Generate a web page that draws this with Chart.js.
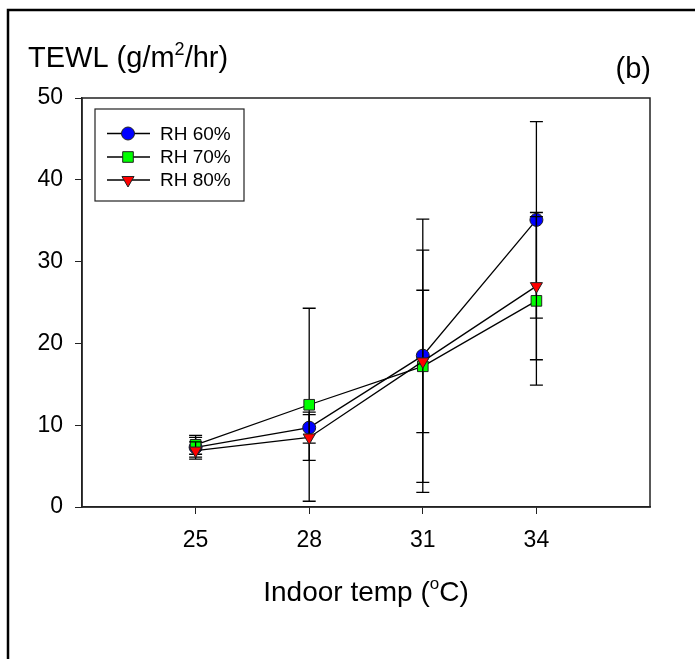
<!DOCTYPE html>
<html>
<head>
<meta charset="utf-8">
<script src="https://cdn.jsdelivr.net/npm/chart.js@4.4.1/dist/chart.umd.min.js"></script>
<style>
  html, body { margin: 0; padding: 0; background: #ffffff; }
  #wrap { position: relative; width: 695px; height: 659px; }
</style>
</head>
<body>
<div id="wrap"><canvas id="chart" width="695" height="659"></canvas></div>
<script>
// indoor temperature (x) and TEWL means / error bars per humidity level
var temps = [25, 28, 31, 34];
var xTicks = [25, 28, 31, 34];
var yTicks = [0, 10, 20, 30, 40, 50];

var seriesNames = ["RH 60%", "RH 70%", "RH 80%"];

var rh60 = [7.3, 9.7, 18.5, 35.1];
var rh60Err = [1.2, 1.9, 16.7, 12.0];

var rh70 = [7.6, 12.5, 17.2, 25.2];
var rh70Err = [1.15, 11.8, 14.2, 10.3];

var rh80 = [6.9, 8.5, 17.8, 27.0];
var rh80Err = [1.05, 2.8, 8.7, 9.0];

var FONT = "'Liberation Sans', Arial, sans-serif";

function toPoints(vals)
{
    var pts = [];
    for (var i = 0; i < temps.length; i++) pts.push({x: temps[i], y: vals[i]});
    return pts;
}

function makeSet(name, vals, errs, color, style, radius, rot, order)
{
    return {
        label: name,
        data: toPoints(vals),
        errors: errs,
        borderColor: "#000000",
        borderWidth: 1.3,
        backgroundColor: color,
        pointBackgroundColor: color,
        pointBorderColor: "#222222",
        pointBorderWidth: 1,
        pointStyle: style,
        pointRadius: radius,
        pointHoverRadius: radius,
        pointRotation: rot,
        tension: 0,
        fill: false,
        order: order
    };
}

// draws text pieces, some of them as superscript
function drawParts(ctx, parts, x, y, size, align)
{
    var small = Math.round(size * 0.62);
    var total = 0;
    for (var i = 0; i < parts.length; i++)
    {
        ctx.font = (parts[i][1] ? small : size) + "px " + FONT;
        total += ctx.measureText(parts[i][0]).width;
    }
    var cx = align == "center" ? x - total / 2 : x;
    ctx.textAlign = "left";
    ctx.textBaseline = "alphabetic";
    for (var j = 0; j < parts.length; j++)
    {
        var sup = parts[j][1];
        ctx.font = (sup ? small : size) + "px " + FONT;
        ctx.fillText(parts[j][0], cx, sup ? y - size * 0.42 : y);
        cx += ctx.measureText(parts[j][0]).width;
    }
}

var errorBars = {
    id: "errorBars",
    beforeDatasetDraw: function(chart, args)
    {
        var ds = chart.data.datasets[args.index];
        var yScale = chart.scales.y;
        var ctx = chart.ctx;
        ctx.save();
        ctx.strokeStyle = "#000000";
        ctx.lineWidth = 1.3;
        for (var i = 0; i < ds.data.length; i++)
        {
            var x = args.meta.data[i].x;
            var top = yScale.getPixelForValue(ds.data[i].y + ds.errors[i]);
            var bot = yScale.getPixelForValue(ds.data[i].y - ds.errors[i]);
            ctx.beginPath();
            ctx.moveTo(x, top); ctx.lineTo(x, bot);
            ctx.moveTo(x - 6.5, top); ctx.lineTo(x + 6.5, top);
            ctx.moveTo(x - 6.5, bot); ctx.lineTo(x + 6.5, bot);
            ctx.stroke();
        }
        ctx.restore();
    }
};

var decor = {
    id: "decor",
    beforeDraw: function(chart)
    {
        var ctx = chart.ctx;
        ctx.save();
        ctx.fillStyle = "#ffffff";
        ctx.fillRect(0, 0, chart.width, chart.height);
        // outer frame, open to the right and bottom
        ctx.strokeStyle = "#000000";
        ctx.lineWidth = 2.5;
        ctx.beginPath();
        ctx.moveTo(8, chart.height);
        ctx.lineTo(8, 10);
        ctx.lineTo(chart.width, 10);
        ctx.stroke();
        ctx.restore();
    },
    afterDraw: function(chart)
    {
        var ctx = chart.ctx;
        var a = chart.chartArea;
        ctx.save();

        // box round the plot
        ctx.strokeStyle = "#222222";
        ctx.lineWidth = 1.5;
        ctx.strokeRect(a.left, a.top, a.right - a.left, a.bottom - a.top);

        ctx.fillStyle = "#000000";
        drawParts(ctx, [["TEWL (g/m", false], ["2", true], ["/hr)", false]], 28, 67, 29, "left");
        drawParts(ctx, [["Indoor temp (", false], ["o", true], ["C)", false]], (a.left + a.right) / 2, 601, 28, "center");
        ctx.font = "29px " + FONT;
        ctx.textAlign = "right";
        ctx.textBaseline = "alphabetic";
        ctx.fillText("(b)", 651, 78);

        // legend
        var lx = 95, ly = 109, lw = 149, lh = 92;
        ctx.strokeStyle = "#222222";
        ctx.lineWidth = 1.2;
        ctx.strokeRect(lx, ly, lw, lh);
        var rows = [133.5, 157, 180];
        var sets = chart.data.datasets;
        for (var i = 0; i < sets.length; i++)
        {
            var ry = rows[i];
            ctx.strokeStyle = "#000000";
            ctx.lineWidth = 1.3;
            ctx.beginPath();
            ctx.moveTo(107, ry); ctx.lineTo(150, ry);
            ctx.stroke();
            ctx.fillStyle = sets[i].pointBackgroundColor;
            ctx.strokeStyle = "#222222";
            ctx.lineWidth = 1;
            Chart.helpers.drawPoint(ctx, {
                pointStyle: sets[i].pointStyle,
                radius: sets[i].pointRadius,
                rotation: sets[i].pointRotation,
                borderWidth: 1
            }, 128, ry);
            ctx.fillStyle = "#000000";
            ctx.font = "19px " + FONT;
            ctx.textAlign = "left";
            ctx.textBaseline = "middle";
            ctx.fillText(seriesNames[i], 160, ry + 1);
        }
        ctx.restore();
    }
};

var ctx = document.getElementById("chart").getContext("2d");

var chart = new Chart(ctx, {
    type: "line",
    data: {
        datasets: [
            makeSet(seriesNames[0], rh60, rh60Err, "#0000ff", "circle", 6.5, 0, 3),
            makeSet(seriesNames[1], rh70, rh70Err, "#00ff00", "rect", 7.5, 0, 2),
            makeSet(seriesNames[2], rh80, rh80Err, "#ff0000", "triangle", 7, 180, 1)
        ]
    },
    options: {
        responsive: false,
        animation: false,
        devicePixelRatio: 1,
        layout: { padding: { left: 0, top: 98, right: 45, bottom: 0 } },
        plugins: {
            legend: { display: false },
            tooltip: { enabled: false }
        },
        scales: {
            x: {
                type: "linear",
                min: 22,
                max: 37,
                afterBuildTicks: function(scale)
                {
                    scale.ticks = xTicks.map(function(v) { return {value: v}; });
                },
                afterFit: function(scale) { scale.height = 152; },
                grid: { drawOnChartArea: false, drawTicks: true, tickLength: 7, color: "#222222" },
                border: { display: true, color: "#222222", width: 1.5 },
                ticks: { color: "#000000", font: { family: FONT, size: 23 }, padding: 13, maxRotation: 0 }
            },
            y: {
                min: 0,
                max: 50,
                afterBuildTicks: function(scale)
                {
                    scale.ticks = yTicks.map(function(v) { return {value: v}; });
                },
                afterFit: function(scale) { scale.width = 82; },
                grid: { drawOnChartArea: false, drawTicks: true, tickLength: 7, color: "#222222" },
                border: { display: true, color: "#222222", width: 1.5 },
                ticks: { color: "#000000", font: { family: FONT, size: 23 }, padding: 12 }
            }
        }
    },
    plugins: [errorBars, decor]
});
</script>
</body>
</html>
